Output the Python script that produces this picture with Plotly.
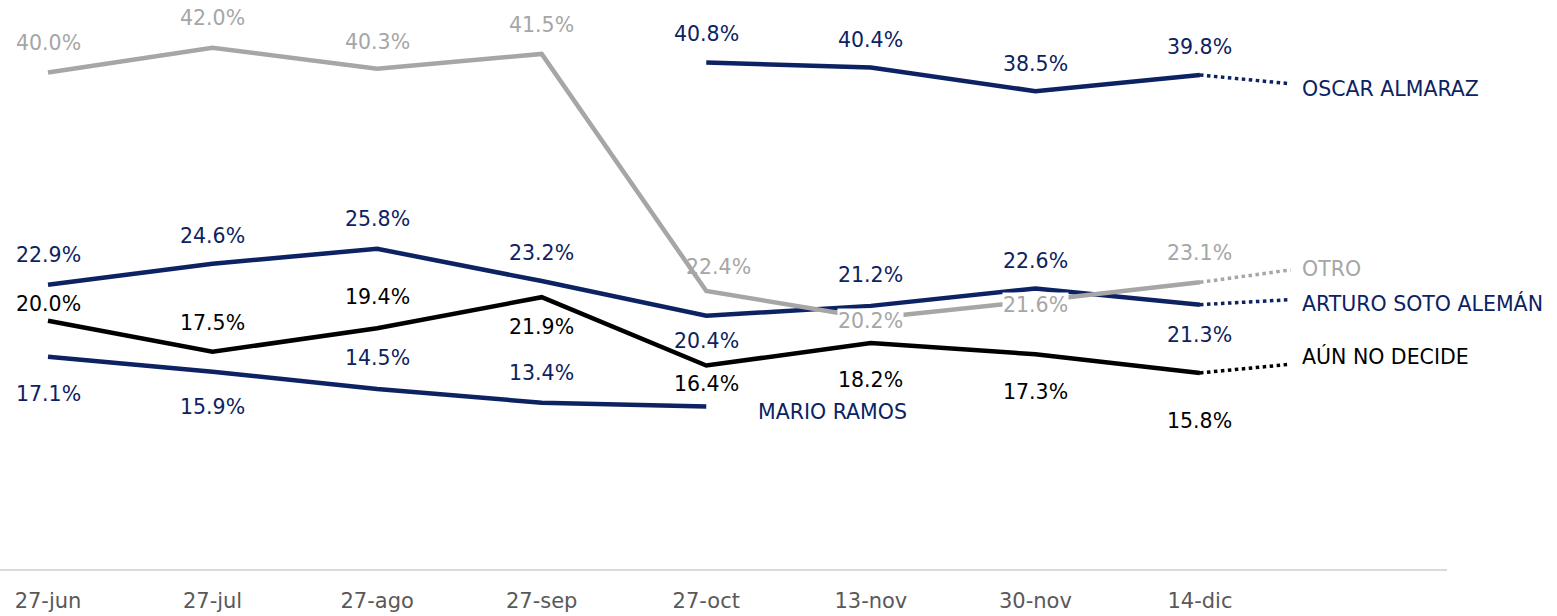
import plotly.graph_objects as go

categories = ["27-jun", "27-jul", "27-ago", "27-sep", "27-oct", "13-nov", "30-nov", "14-dic"]

otro = [40.0, 42.0, 40.3, 41.5, 22.4, 20.2, 21.6, 23.1]
arturo = [22.9, 24.6, 25.8, 23.2, 20.4, 21.2, 22.6, 21.3]
aun_no_decide = [20.0, 17.5, 19.4, 21.9, 16.4, 18.2, 17.3, 15.8]
mario = [17.1, 15.9, 14.5, 13.4, 13.1, None, None, None]
oscar = [None, None, None, None, 40.8, 40.4, 38.5, 39.8]

NAVY = "#0c2262"
GRAY = "#a6a6a6"
BLACK = "#000000"
FONT = "DejaVu Sans"
FS = 20.5

# label offsets (px) relative to each point
otro_dy = [30, 30, 27, 29, 24, -3, -4, 29]
otro_dx = [0, 0, 0, 0, 12, 0, 0, 0]
arturo_dy = [30, 28, 30, 28, -25, 31, 28, -30]
aun_dy = [17, 29, 31, -30, -19, -37, -38, -48]
mario_dy = [-37, -35, 31, 30, None, None, None, None]
oscar_dy = [None, None, None, None, 29, 28, 27, 28]

# end labels: (name, color, series, connector end y, label y)
end_labels = [
    ("OSCAR ALMARAZ", NAVY, oscar, 39.1, 38.7),
    ("OTRO", GRAY, otro, 24.1, 24.2),
    ("ARTURO SOTO ALEMÁN", NAVY, arturo, 21.7, 21.4),
    ("AÚN NO DECIDE", BLACK, aun_no_decide, 16.5, 17.1),
]
CONNECTOR_X = 7.55
LABEL_X = 7.61

xs = list(range(len(categories)))
fig = go.Figure()

series = [
    (otro, GRAY, otro_dy, otro_dx, True),
    (arturo, NAVY, arturo_dy, None, False),
    (aun_no_decide, BLACK, aun_dy, None, False),
    (mario, NAVY, mario_dy, None, False),
    (oscar, NAVY, oscar_dy, None, False),
]

for vals, color in [(mario, NAVY), (oscar, NAVY), (aun_no_decide, BLACK), (arturo, NAVY), (otro, GRAY)]:
    fig.add_trace(go.Scatter(x=xs, y=vals, mode="lines", line=dict(color=color, width=4.5),
                             connectgaps=False, hoverinfo="skip", showlegend=False))

for name, color, vals, cy, ly in end_labels:
    fig.add_trace(go.Scatter(x=[xs[-1], CONNECTOR_X], y=[vals[-1], cy], mode="lines",
                             line=dict(color=color, width=3.5, dash="dot"),
                             hoverinfo="skip", showlegend=False))

annotations = []
for vals, color, dys, dxs, bg in series:
    for i, v in enumerate(vals):
        if v is None or dys[i] is None:
            continue
        use_bg = bg and abs(dys[i]) < 10
        annotations.append(dict(
            x=xs[i], y=v, xref="x", yref="y", text=f"{v:.1f}%", showarrow=False,
            xshift=(dxs[i] if dxs else 0), yshift=dys[i],
            font=dict(family=FONT, size=FS, color=color),
            bgcolor="white" if use_bg else None, borderpad=0,
        ))

for name, color, vals, cy, ly in end_labels:
    annotations.append(dict(x=LABEL_X, y=ly, xref="x", yref="y", text=name, showarrow=False,
                            xanchor="left", font=dict(family=FONT, size=FS, color=color)))

annotations.append(dict(x=4, y=mario[4], xref="x", yref="y", text="MARIO RAMOS", showarrow=False,
                        xanchor="left", xshift=50, yshift=-6,
                        font=dict(family=FONT, size=FS, color=NAVY)))

fig.update_layout(
    width=1557, height=616,
    margin=dict(l=0, r=110, t=10, b=47),
    paper_bgcolor="white", plot_bgcolor="white",
    annotations=annotations,
    xaxis=dict(range=[-0.2917, 8.501], tickvals=xs, ticktext=categories, showgrid=False,
               zeroline=False, showline=True, linecolor="#d9d9d9", linewidth=2,
               ticks="", ticklabelstandoff=12,
               tickfont=dict(family=FONT, size=21, color="#595959")),
    yaxis=dict(range=[0, 45.04], visible=False, showgrid=False, zeroline=False),
)

fig.write_html("out.html", config={"displayModeBar": False},
               post_script="document.body.style.margin='0';document.body.style.overflow='hidden';")
